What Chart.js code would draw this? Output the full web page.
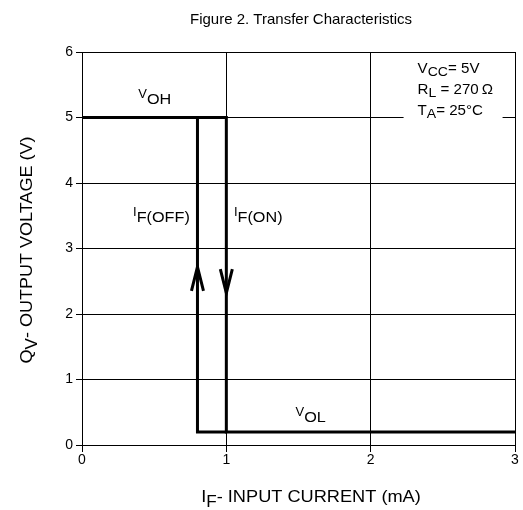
<!DOCTYPE html>
<html>
<head>
<meta charset="utf-8">
<script src="https://cdn.jsdelivr.net/npm/chart.js@4.4.0/dist/chart.umd.min.js"></script>
<style>
  html, body { margin: 0; padding: 0; background: #fff; }
</style>
</head>
<body>
<canvas id="transferChart" width="523" height="510"></canvas>
<script>
// transfer characteristic: I_F (mA) vs output voltage (V)
const onPath = [{x: 0, y: 5}, {x: 1, y: 5}, {x: 1, y: 0.2}, {x: 3, y: 0.2}];
const offPath = [{x: 1, y: 0.2}, {x: 0.8, y: 0.2}, {x: 0.8, y: 5}];
const xTicks = [0, 1, 2, 3];
const yTicks = [0, 1, 2, 3, 4, 5, 6];
// arrow tips on the two switching edges (dir -1 = up, 1 = down)
const arrowX = [0.8, 1];
const arrowY = [2.72, 2.32];
const arrowDir = [-1, 1];

const FONT = '"Liberation Sans", Arial, sans-serif';

// text with a subscript: [x, y, main, sub, rest]
const curveLabels = [
  [0.39, 5.30, 'V', 'OH', ''],
  [0.354, 3.49, 'I', 'F(OFF)', ''],
  [1.053, 3.49, 'I', 'F(ON)', ''],
  [1.48, 0.44, 'V', 'OL', '']
];
const condLabels = [
  [2.325, 5.68, 'V', 'CC', '= 5V'],
  [2.325, 5.36, 'R', 'L', ' = 270\u2009\u03A9'],
  [2.325, 5.04, 'T', 'A', '= 25\u00B0C']
];

// draws main + subscript + rest, stretched horizontally by sx; returns width
function subText(ctx, x, y, main, sub, rest, sizes, drop, sx) {
  ctx.save();
  ctx.translate(x, y);
  ctx.scale(sx, 1);
  ctx.textAlign = 'left';
  ctx.textBaseline = 'alphabetic';
  ctx.font = sizes[0] + 'px ' + FONT;
  ctx.fillText(main, 0, 0);
  let w = ctx.measureText(main).width;
  ctx.font = sizes[1] + 'px ' + FONT;
  ctx.fillText(sub, w, drop);
  w += ctx.measureText(sub).width;
  ctx.font = sizes[2] + 'px ' + FONT;
  ctx.fillText(rest, w, 0);
  w += ctx.measureText(rest).width;
  ctx.restore();
  return w * sx;
}

function measureSub(ctx, main, sub, rest, sizes, sx) {
  ctx.font = sizes[0] + 'px ' + FONT;
  let w = ctx.measureText(main).width;
  ctx.font = sizes[1] + 'px ' + FONT;
  w += ctx.measureText(sub).width;
  ctx.font = sizes[2] + 'px ' + FONT;
  w += ctx.measureText(rest).width;
  return w * sx;
}

const annotate = {
  id: 'annotate',
  afterDatasetsDraw(chart) {
    const ctx = chart.ctx;
    const xs = chart.scales.x, ys = chart.scales.y;
    const area = chart.chartArea;
    ctx.save();
    ctx.fillStyle = '#000';
    ctx.strokeStyle = '#000';

    // arrow heads
    ctx.lineWidth = 3;
    ctx.lineJoin = 'miter';
    for (let i = 0; i < arrowX.length; i++) {
      const px = xs.getPixelForValue(arrowX[i]);
      const py = ys.getPixelForValue(arrowY[i]);
      const d = arrowDir[i];
      ctx.beginPath();
      ctx.moveTo(px - 6, py - d * 24);
      ctx.lineTo(px, py);
      ctx.lineTo(px + 6, py - d * 24);
      ctx.stroke();
    }

    curveLabels.forEach(l => {
      subText(ctx, xs.getPixelForValue(l[0]), ys.getPixelForValue(l[1]), l[2], l[3], l[4], [12, 15, 15], 6, 1.08);
    });

    // conditions box: white knock-out behind text
    const bx = xs.getPixelForValue(condLabels[0][0]);
    ctx.fillStyle = '#fff';
    ctx.fillRect(bx - 14, ys.getPixelForValue(5.9), 99, ys.getPixelForValue(4.9) - ys.getPixelForValue(5.9));
    ctx.fillStyle = '#000';
    condLabels.forEach(l => {
      subText(ctx, xs.getPixelForValue(l[0]), ys.getPixelForValue(l[1]), l[2], l[3], l[4], [14, 13, 14], 3, 1.08);
    });

    // title
    ctx.font = '15px ' + FONT;
    ctx.textAlign = 'center';
    ctx.textBaseline = 'middle';
    ctx.fillText('Figure 2. Transfer Characteristics', 301, 20);

    // x axis title
    const tSizes = [17, 16, 17];
    let w = measureSub(ctx, 'I', 'F', '- INPUT CURRENT (mA)', tSizes, 1.07);
    subText(ctx, 311 - w / 2, 502, 'I', 'F', '- INPUT CURRENT (mA)', tSizes, 5, 1.07);

    // y axis title
    ctx.save();
    ctx.translate(32, 250);
    ctx.rotate(-Math.PI / 2);
    w = measureSub(ctx, 'Q', 'V', '- OUTPUT VOLTAGE (V)', tSizes, 1.06);
    subText(ctx, -w / 2, 0, 'Q', 'V', '- OUTPUT VOLTAGE (V)', tSizes, 5, 1.06);
    ctx.restore();

    ctx.restore();
  }
};

new Chart(document.getElementById('transferChart').getContext('2d'), {
  type: 'scatter',
  data: {
    datasets: [{
      label: 'I_F(ON)',
      data: onPath,
      showLine: true,
      borderColor: '#000',
      borderWidth: 3,
      pointRadius: 0,
      tension: 0
    },
    {
      label: 'I_F(OFF)',
      data: offPath,
      showLine: true,
      borderColor: '#000',
      borderWidth: 3,
      pointRadius: 0,
      tension: 0
    }]
  },
  options: {
    responsive: false,
    animation: false,
    devicePixelRatio: 1,
    layout: { padding: { left: 0, top: 52, right: 8, bottom: 0 } },
    plugins: { legend: { display: false }, tooltip: { enabled: false } },
    scales: {
      x: {
        type: 'linear',
        min: 0, max: 3,
        afterBuildTicks: s => { s.ticks = xTicks.map(v => ({value: v})); },
        afterFit: s => { s.height = 65; },
        grid: { color: '#000', lineWidth: 1, tickLength: 7 },
        border: { color: '#000', width: 1 },
        ticks: { color: '#000', font: { family: FONT, size: 14 }, padding: 0, maxRotation: 0 }
      },
      y: {
        type: 'linear',
        min: 0, max: 6,
        afterBuildTicks: s => { s.ticks = yTicks.map(v => ({value: v})); },
        afterFit: s => { s.width = 82; },
        grid: { color: '#000', lineWidth: 1, tickLength: 6 },
        border: { color: '#000', width: 1 },
        ticks: { color: '#000', font: { family: FONT, size: 14 }, padding: 3 }
      }
    }
  },
  plugins: [annotate]
});
</script>
</body>
</html>
